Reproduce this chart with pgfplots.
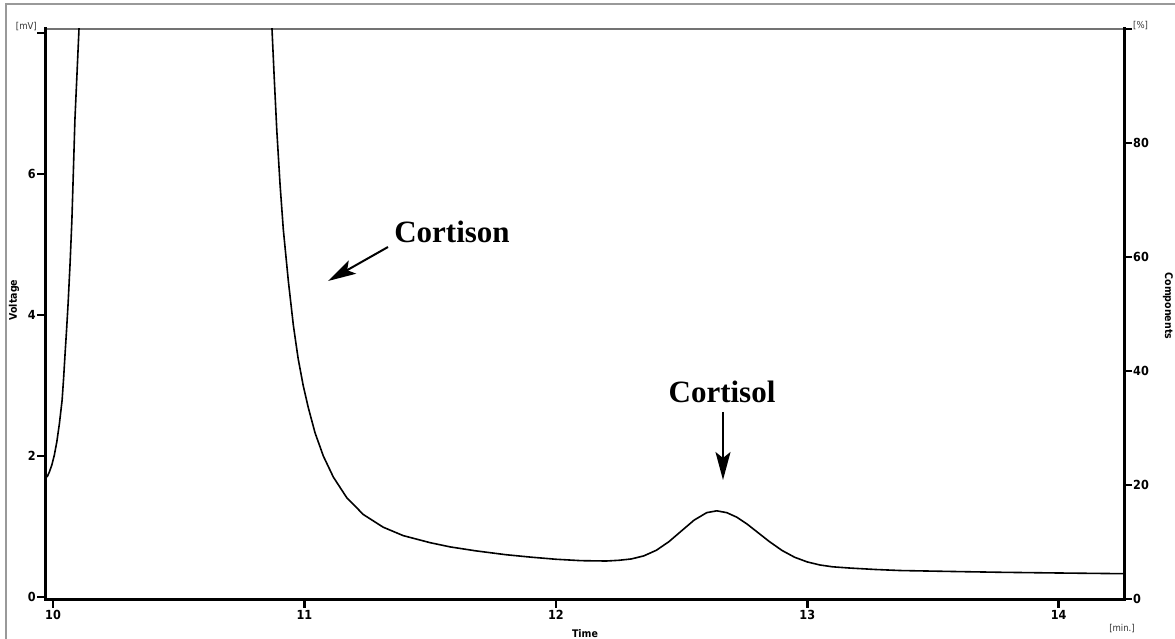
\documentclass[border=0pt]{standalone}
\usepackage{pgfplots}
\pgfplotsset{compat=1.18}
\usepackage{fontspec}
\setmainfont{DejaVu Sans Condensed}
\newfontfamily\serifbold{Liberation Serif}
\usetikzlibrary{arrows.meta}
\begin{document}
\begin{tikzpicture}
\path[use as bounding box] (0pt,0pt) rectangle (1175pt,639pt);
\draw[black!40, line width=1.2pt] (6pt,0pt) -- (6pt,635pt) -- (1175pt,635pt);
\draw[black!55, line width=1.2pt] (45pt,610pt) -- (1124pt,610pt);
\begin{axis}[
  at={(45pt,39pt)}, anchor=south west,
  width=1079pt, height=571pt, scale only axis,
  xmin=9.968, xmax=14.26, ymin=-0.043, ymax=8.057,
  axis x line*=bottom, axis y line*=left,
  x axis line style={-, line width=3pt, line cap=rect},
  y axis line style={-, line width=3pt, line cap=rect},
  xtick={10,11,12,13,14}, xtick pos=bottom,
  ytick={0,2,4,6,8}, yticklabels={0,2,4,6,{}}, ytick pos=left,
  tick align=outside, major tick length=8pt,
  tick style={line width=2.5pt, black},
  /pgf/number format/assume math mode=true,
  /pgf/number format/1000 sep={},
  tick label style={font=\fontsize{12.5}{14}\selectfont\bfseries},
  xticklabel style={inner sep=2.5pt},
  yticklabel style={inner sep=1pt},
]
\addplot[black, line width=1.6pt, line join=round] coordinates {
(9.976,1.70) (9.985,1.77) (9.995,1.87) (10.005,2.01) (10.015,2.20) (10.025,2.45)
(10.036,2.79) (10.042,3.10) (10.048,3.46) (10.054,3.80) (10.06,4.17) (10.068,4.75)
(10.075,5.35) (10.081,6.05) (10.087,6.77) (10.095,7.40) (10.103,8.04) (10.11,9.0)
(10.865,9.0) (10.871,8.05) (10.88,7.35) (10.89,6.62) (10.903,5.85) (10.916,5.21)
(10.936,4.48) (10.956,3.85) (10.975,3.38) (10.995,3.00) (11.015,2.69) (11.042,2.33)
(11.075,2.00) (11.115,1.70) (11.168,1.41) (11.234,1.17) (11.313,0.99) (11.393,0.87)
(11.50,0.77) (11.58,0.71) (11.68,0.655) (11.8,0.60) (11.9,0.565) (12.0,0.535)
(12.1,0.515) (12.2,0.51) (12.25,0.52) (12.30,0.539) (12.35,0.583) (12.40,0.663)
(12.45,0.785) (12.50,0.938) (12.55,1.09) (12.60,1.196) (12.64,1.222) (12.68,1.196)
(12.72,1.131) (12.76,1.036) (12.80,0.924) (12.85,0.784) (12.90,0.659) (12.95,0.563)
(13.00,0.497) (13.05,0.454) (13.10,0.428) (13.17,0.41) (13.27,0.39) (13.37,0.375)
(13.6,0.36) (13.77,0.35) (14.0,0.34) (14.26,0.33)
};
\end{axis}
\begin{axis}[
  at={(45pt,39pt)}, anchor=south west,
  width=1079pt, height=571pt, scale only axis,
  xmin=9.968, xmax=14.26, ymin=-0.18, ymax=100,
  hide x axis, axis y line*=right,
  y axis line style={-, line width=3pt, line cap=rect},
  ytick={0,20,40,60,80,100}, yticklabels={0,20,40,60,80,{}}, ytick pos=right,
  tick align=outside, major tick length=8pt,
  tick style={line width=2.5pt, black},
  /pgf/number format/assume math mode=true,
  tick label style={font=\fontsize{12.5}{14}\selectfont\bfseries},
  yticklabel style={inner sep=1pt},
]
\addplot[draw=none] coordinates {(10,0) (14,0)};
\end{axis}
\node[anchor=east, inner sep=0pt, black!80, font=\fontsize{9.5}{11}\selectfont] at (37pt,612pt) {[mV]};
\node[anchor=west, inner sep=0pt, black!80, font=\fontsize{9.5}{11}\selectfont] at (1133pt,613pt) {[\%]};
\node[inner sep=0pt, black!80, font=\fontsize{9.5}{11}\selectfont] at (1122pt,10pt) {[min.]};
\node[rotate=90, inner sep=0pt, font=\fontsize{10.5}{12}\selectfont\bfseries] at (14pt,339pt) {Voltage};
\node[rotate=-90, inner sep=0pt, font=\fontsize{10.5}{12}\selectfont\bfseries] at (1168pt,333pt) {Components};
\node[inner sep=0pt, font=\fontsize{10.5}{12}\selectfont\bfseries] at (585pt,5pt) {Time};
\node[inner sep=0pt, font=\serifbold\fontsize{31}{34}\selectfont\bfseries] at (452pt,407pt) {Cortison};
\node[inner sep=0pt, font=\serifbold\fontsize{31}{34}\selectfont\bfseries] at (722pt,247pt) {Cortisol};
\draw[line width=2pt, -{Stealth[length=28pt,width=15pt,inset=6pt]}] (388pt,392pt) -- (328pt,358pt);
\draw[line width=2pt, -{Stealth[length=28pt,width=15pt,inset=6pt]}] (723pt,227pt) -- (723pt,159pt);
\end{tikzpicture}
\end{document}
